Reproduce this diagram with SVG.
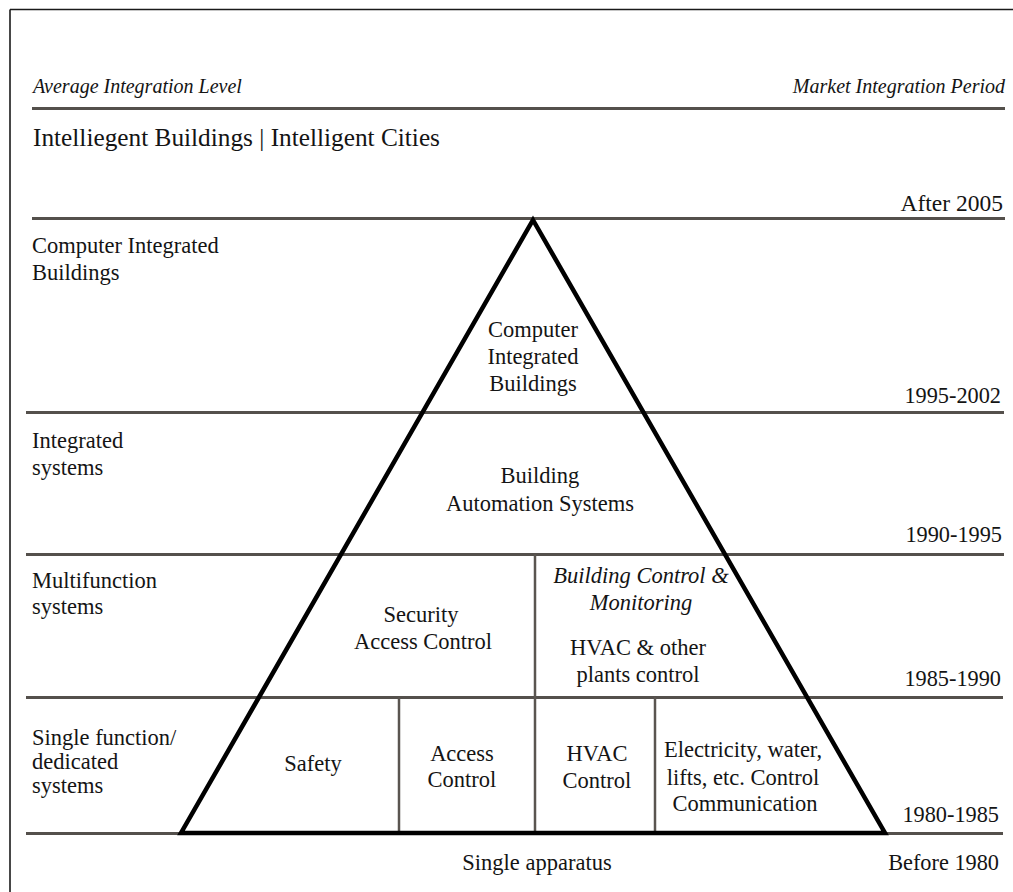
<svg xmlns="http://www.w3.org/2000/svg" width="1013" height="892" viewBox="0 0 1013 892">
  <style>
    text { font-family: "Liberation Serif", "Times New Roman", serif; fill: #141414; }
    .hdr { font-size: 20px; font-style: italic; }
    .title { font-size: 25.3px; }
    .lbl { font-size: 22.5px; }
    .date { font-size: 22.3px; text-anchor: end; }
    .mid { text-anchor: middle; }
    .it { font-style: italic; }
    .band { stroke: #54504c; stroke-width: 3; fill: none; }
    .div { stroke: #5a5550; stroke-width: 2.5; fill: none; }
    .frame { stroke: #1a1a1a; stroke-width: 1.6; fill: none; }
    .pyr { stroke: #000; stroke-width: 4.5; fill: none; stroke-linejoin: miter; }
  </style>

  <rect width="1013" height="892" fill="#fff"/>

  <!-- page frame -->
  <g id="frame">
    <line class="frame" x1="10" y1="9.5" x2="1013" y2="9.5"/>
    <line class="frame" x1="10" y1="9.5" x2="10" y2="892"/>
  </g>

  <!-- header -->
  <g id="header">
    <text class="hdr" x="33" y="93">Average Integration Level</text>
    <text class="hdr" x="1005" y="93" text-anchor="end">Market Integration Period</text>
    <text class="title" x="33" y="146">Intelliegent Buildings | Intelligent Cities</text>
  </g>

  <!-- horizontal band separators -->
  <g id="bands">
    <line class="band" x1="32" y1="108.5" x2="1005" y2="108.5"/>
    <line class="band" x1="32" y1="218.5" x2="1005" y2="218.5"/>
    <line class="band" x1="26" y1="412.5" x2="1004" y2="412.5"/>
    <line class="band" x1="26" y1="554.5" x2="1004" y2="554.5"/>
    <line class="band" x1="26" y1="697.5" x2="1003" y2="697.5"/>
    <line class="band" x1="26" y1="833.5" x2="1003" y2="833.5"/>
  </g>

  <!-- cell dividers inside the pyramid -->
  <g id="dividers">
    <line class="div" x1="535" y1="554" x2="535" y2="833"/>
    <line class="div" x1="399" y1="697" x2="399" y2="833"/>
    <line class="div" x1="655" y1="697" x2="655" y2="833"/>
  </g>

  <!-- pyramid outline -->
  <g id="pyramid">
    <polygon class="pyr" points="533,220 885,833 181,833"/>
  </g>

  <!-- integration level labels (left column) -->
  <g id="level-labels">
    <text class="lbl" x="32" y="253">Computer Integrated</text>
    <text class="lbl" x="32" y="280">Buildings</text>
    <text class="lbl" x="32" y="448">Integrated</text>
    <text class="lbl" x="32" y="475">systems</text>
    <text class="lbl" x="32" y="588">Multifunction</text>
    <text class="lbl" x="32" y="614">systems</text>
    <text class="lbl" x="32" y="745">Single function/</text>
    <text class="lbl" x="32" y="769">dedicated</text>
    <text class="lbl" x="32" y="793">systems</text>
  </g>

  <!-- period labels (right column) -->
  <g id="period-labels">
    <text class="date" x="1003" y="211" style="font-size:23.5px">After 2005</text>
    <text class="date" x="1001" y="403">1995-2002</text>
    <text class="date" x="1002" y="542">1990-1995</text>
    <text class="date" x="1001" y="686">1985-1990</text>
    <text class="date" x="999" y="822">1980-1985</text>
    <text class="date" x="999" y="870">Before 1980</text>
  </g>

  <!-- pyramid cells -->
  <g id="cell-cib">
    <text class="lbl mid" x="533" y="337">Computer</text>
    <text class="lbl mid" x="533" y="364">Integrated</text>
    <text class="lbl mid" x="533" y="391">Buildings</text>
  </g>
  <g id="cell-bas">
    <text class="lbl mid" x="540" y="483">Building</text>
    <text class="lbl mid" x="540" y="511">Automation Systems</text>
  </g>
  <g id="cell-security">
    <text class="lbl mid" x="421" y="622">Security</text>
    <text class="lbl mid" x="423" y="649">Access Control</text>
  </g>
  <g id="cell-bcm">
    <text class="lbl mid it" x="641" y="583">Building Control &amp;</text>
    <text class="lbl mid it" x="641" y="610">Monitoring</text>
    <text class="lbl mid" x="638" y="655">HVAC &amp; other</text>
    <text class="lbl mid" x="638" y="682">plants control</text>
  </g>
  <g id="cell-safety">
    <text class="lbl mid" x="313" y="771">Safety</text>
  </g>
  <g id="cell-access">
    <text class="lbl mid" x="462" y="761">Access</text>
    <text class="lbl mid" x="462" y="787">Control</text>
  </g>
  <g id="cell-hvac">
    <text class="lbl mid" x="597" y="761">HVAC</text>
    <text class="lbl mid" x="597" y="788">Control</text>
  </g>
  <g id="cell-utilities">
    <text class="lbl mid" x="743" y="757">Electricity, water,</text>
    <text class="lbl mid" x="743" y="785">lifts, etc. Control</text>
    <text class="lbl mid" x="745" y="811">Communication</text>
  </g>

  <!-- base level -->
  <g id="base-label">
    <text class="lbl mid" x="537" y="870">Single apparatus</text>
  </g>
</svg>
